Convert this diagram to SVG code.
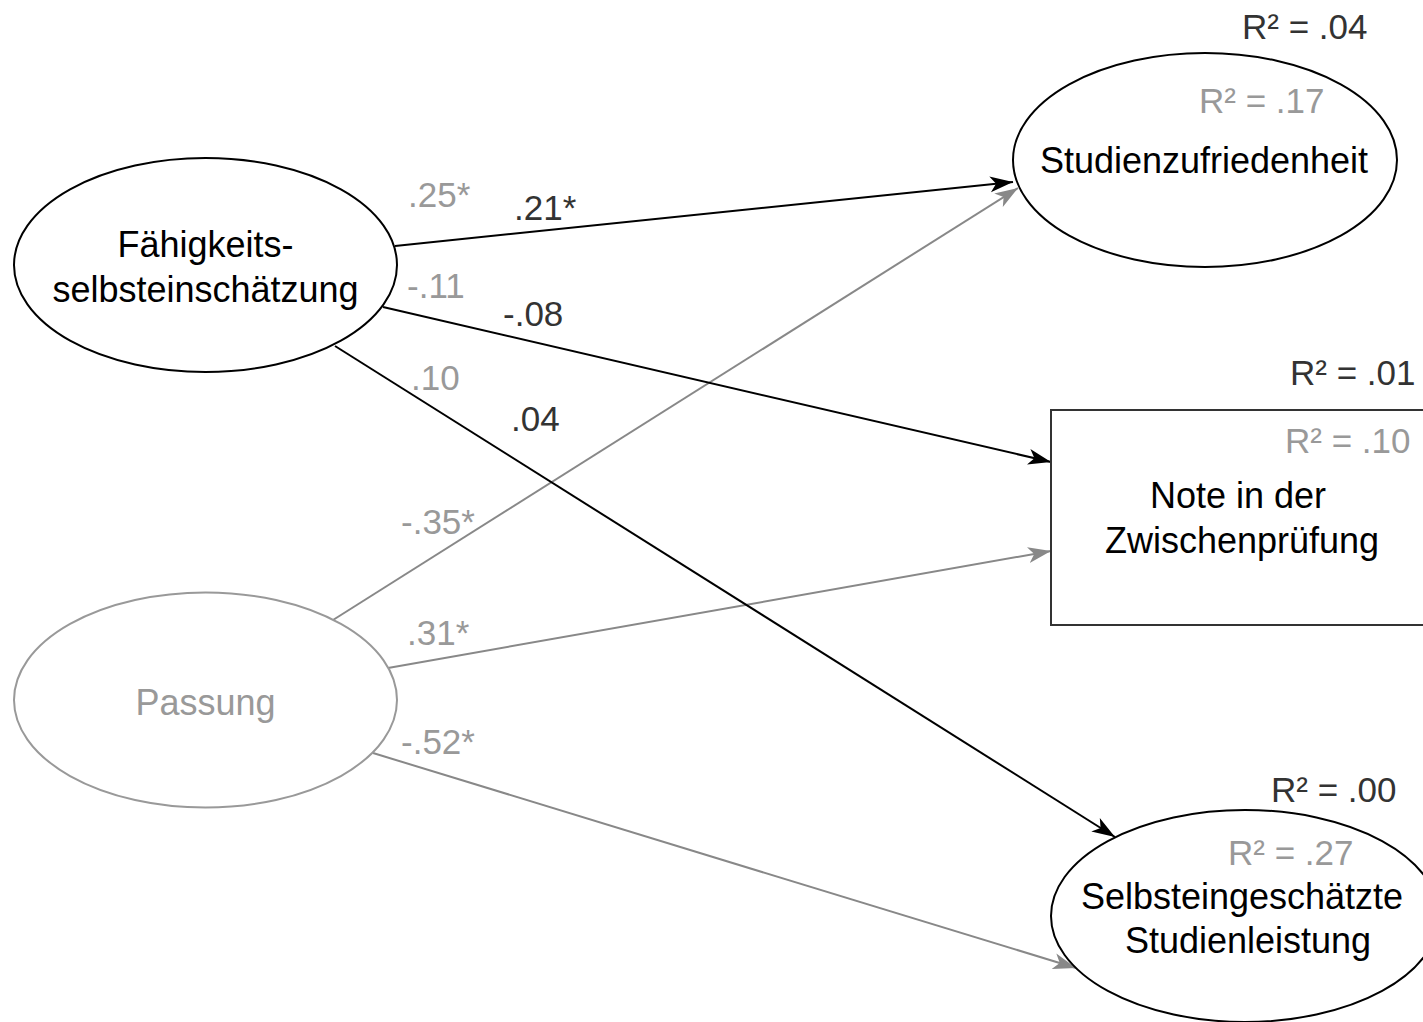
<svg xmlns="http://www.w3.org/2000/svg" width="1423" height="1022" viewBox="0 0 1423 1022">
<defs>
<style>
text{font-family:"Liberation Sans",Arial,sans-serif;font-size:35px}
.lbl{font-size:36px}
.blk{fill:#000}
.dk{fill:#333}
.gr{fill:#999}
.mid{text-anchor:middle}
.nodeB{fill:#fff;stroke:#000;stroke-width:2}
.nodeG{fill:#fff;stroke:#999;stroke-width:2}
.cB{stroke:#000;stroke-width:2;fill:none;marker-end:url(#aB)}
.cG{stroke:#888;stroke-width:2;fill:none;marker-end:url(#aG)}
</style>
<marker id="aB" markerUnits="userSpaceOnUse" markerWidth="24" markerHeight="18" viewBox="0 0 24 18" refX="23" refY="9" orient="auto">
<path d="M0,1 L23,9 L0,17 L6,9 Z" fill="#000"/>
</marker>
<marker id="aG" markerUnits="userSpaceOnUse" markerWidth="24" markerHeight="18" viewBox="0 0 24 18" refX="23" refY="9" orient="auto">
<path d="M0,1 L23,9 L0,17 L6,9 Z" fill="#888"/>
</marker>
</defs>
<rect width="1423" height="1022" fill="#fff"/>
<g id="connectors">
<line class="cB" x1="395" y1="246" x2="1013" y2="182"/>
<line class="cG" x1="333" y1="620" x2="1018" y2="188"/>
<line class="cB" x1="383" y1="307" x2="1051" y2="462"/>
<line class="cG" x1="388" y1="668" x2="1051" y2="551"/>
<line class="cB" x1="335" y1="346" x2="1115" y2="837"/>
<line class="cG" x1="373" y1="753" x2="1076" y2="968"/>
</g>
<g id="labels">
<text class="gr" x="408" y="207">.25*</text>
<text class="dk" x="514" y="220">.21*</text>
<text class="gr" x="407" y="298">-.11</text>
<text class="dk" x="503" y="326">-.08</text>
<text class="gr" x="411" y="390">.10</text>
<text class="dk" x="511" y="431">.04</text>
<text class="gr" x="401" y="534">-.35*</text>
<text class="gr" x="407" y="645">.31*</text>
<text class="gr" x="401" y="754">-.52*</text>
</g>
<g id="node-faehigkeit">
<ellipse class="nodeB" cx="205.5" cy="265" rx="191.5" ry="107"/>
<text class="lbl blk mid" x="205.5" y="257">Fähigkeits-</text>
<text class="lbl blk mid" x="205.5" y="302">selbsteinschätzung</text>
</g>
<g id="node-passung">
<ellipse class="nodeG" cx="205.5" cy="700" rx="191.5" ry="107.5"/>
<text class="lbl gr mid" x="205.5" y="715">Passung</text>
</g>
<g id="node-studienzufriedenheit">
<ellipse class="nodeB" cx="1205" cy="160" rx="192" ry="107"/>
<text class="lbl blk mid" x="1204" y="173">Studienzufriedenheit</text>
<text class="gr" x="1199" y="113">R² = .17</text>
<text class="dk" x="1242" y="39">R² = .04</text>
</g>
<g id="node-note">
<rect x="1051" y="410" width="400" height="215" fill="#fff" stroke="#333" stroke-width="2"/>
<text class="dk" x="1290" y="385">R² = .01</text>
<text class="gr" x="1285" y="453">R² = .10</text>
<text class="lbl blk mid" x="1238" y="508">Note in der</text>
<text class="lbl blk mid" x="1242" y="553">Zwischenprüfung</text>
</g>
<g id="node-selbst">
<ellipse class="nodeB" cx="1245" cy="916" rx="194" ry="106"/>
<text class="dk" x="1271" y="802">R² = .00</text>
<text class="gr" x="1228" y="865">R² = .27</text>
<text class="lbl blk mid" x="1242" y="909">Selbsteingeschätzte</text>
<text class="lbl blk mid" x="1248" y="953">Studienleistung</text>
</g>
</svg>
